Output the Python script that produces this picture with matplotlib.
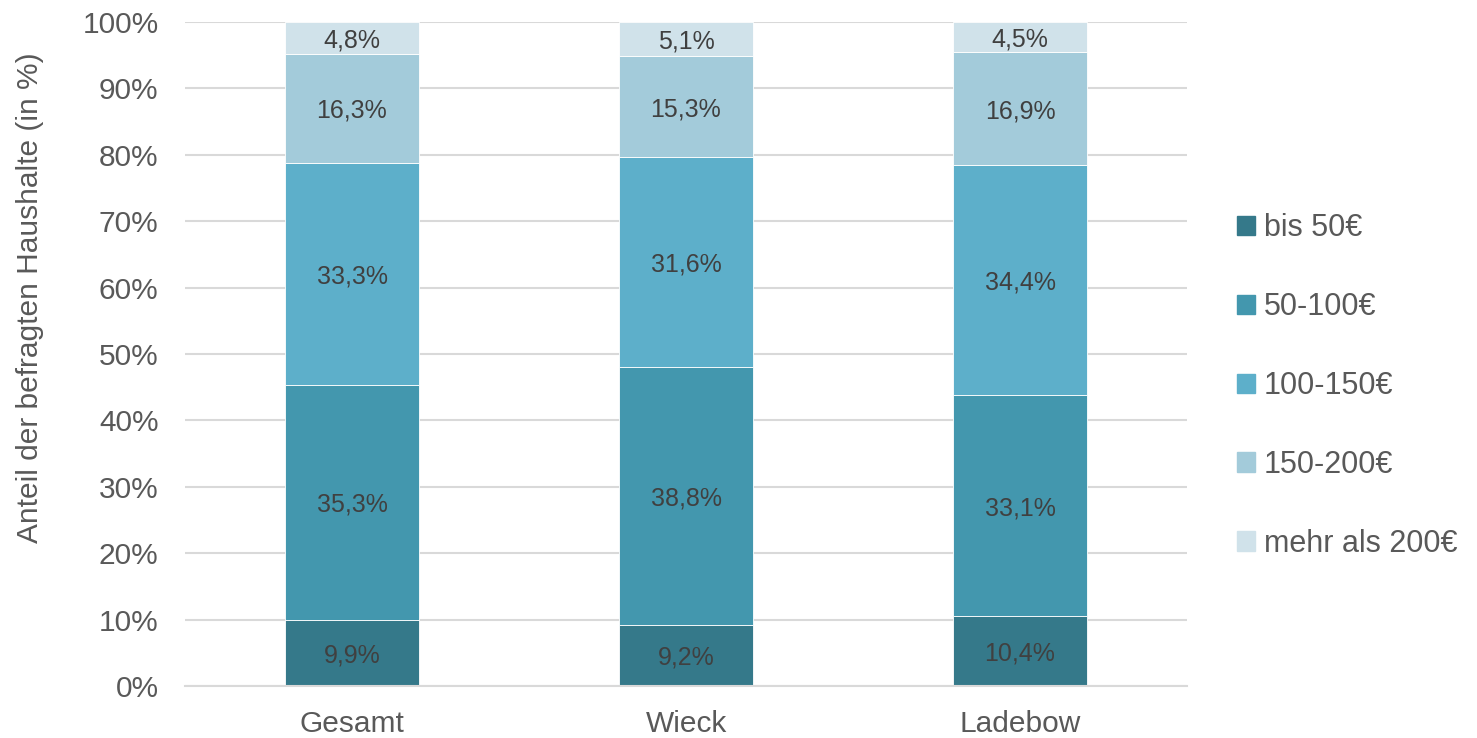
import numpy as np
import matplotlib
matplotlib.use("Agg")
import matplotlib.pyplot as plt
import matplotlib.patches as mpatches

plt.rcParams["font.family"] = ["Liberation Sans", "DejaVu Sans"]

# data
categories = ["Gesamt", "Wieck", "Ladebow"]
series = ["bis 50€", "50-100€", "100-150€", "150-200€", "mehr als 200€"]
values = {
    "bis 50€": [9.9, 9.2, 10.4],
    "50-100€": [35.3, 38.8, 33.1],
    "100-150€": [33.3, 31.6, 34.4],
    "150-200€": [16.3, 15.3, 16.9],
    "mehr als 200€": [4.8, 5.1, 4.5],
}
colors = ["#35798A", "#4397AE", "#5DAFCA", "#A3CBDA", "#D0E2EA"]

W, H = 1477, 738
fig = plt.figure(figsize=(W / 100, H / 100), dpi=100)
ax = fig.add_axes([185 / W, 1 - 686 / H, (1187 - 185) / W, (686 - 22) / H])

x = np.arange(len(categories))
data = np.array([values[s] for s in series])
totals = data.sum(axis=0)
shares = data / totals * 100  # 100% stacked like the original

bottom = np.zeros(len(categories))
for i, s in enumerate(series):
    ax.bar(x, shares[i], bottom=bottom, width=0.4, color=colors[i],
           edgecolor="white", linewidth=0.6, zorder=2)
    for j in range(len(categories)):
        label = f"{data[i, j]:.1f}%".replace(".", ",")
        ax.text(x[j], bottom[j] + shares[i, j] / 2, label, ha="center",
                va="center_baseline", fontsize=18, color="#404040", zorder=3)
    bottom += shares[i]

ax.set_xlim(-0.5, 2.5)
ax.set_ylim(0, 100)
ax.set_yticks(np.arange(0, 101, 10))
ax.set_yticklabels([f"{v}%" for v in range(0, 101, 10)])
ax.set_xticks(x)
ax.set_xticklabels(categories)
ax.tick_params(axis="both", length=0, labelsize=21.5, colors="#595959")
ax.tick_params(axis="x", pad=17)
ax.tick_params(axis="y", pad=19)
ax.grid(axis="y", color="#D9D9D9", linewidth=1.5, zorder=0)
ax.set_axisbelow(True)
for sp in ["top", "right", "left"]:
    ax.spines[sp].set_visible(False)
ax.spines["bottom"].set_color("#D9D9D9")
ax.spines["bottom"].set_linewidth(1.5)

# y label sits higher than the axes centre in the original
fig.text(30 / W, 1 - 298 / H, "Anteil der befragten Haushalte (in %)",
         rotation=90, ha="center", va="center", fontsize=21.5,
         color="#595959")

handles = [mpatches.Patch(color=c, label=s) for c, s in zip(colors, series)]
fig.legend(handles=handles, loc="center left",
           bbox_to_anchor=(1209 / W, 1 - 386 / H), frameon=False,
           fontsize=22, labelcolor="#595959", handlelength=0.6,
           handleheight=0.6, handletextpad=0.3, labelspacing=1.6)

fig.savefig("out.png", dpi=100)
